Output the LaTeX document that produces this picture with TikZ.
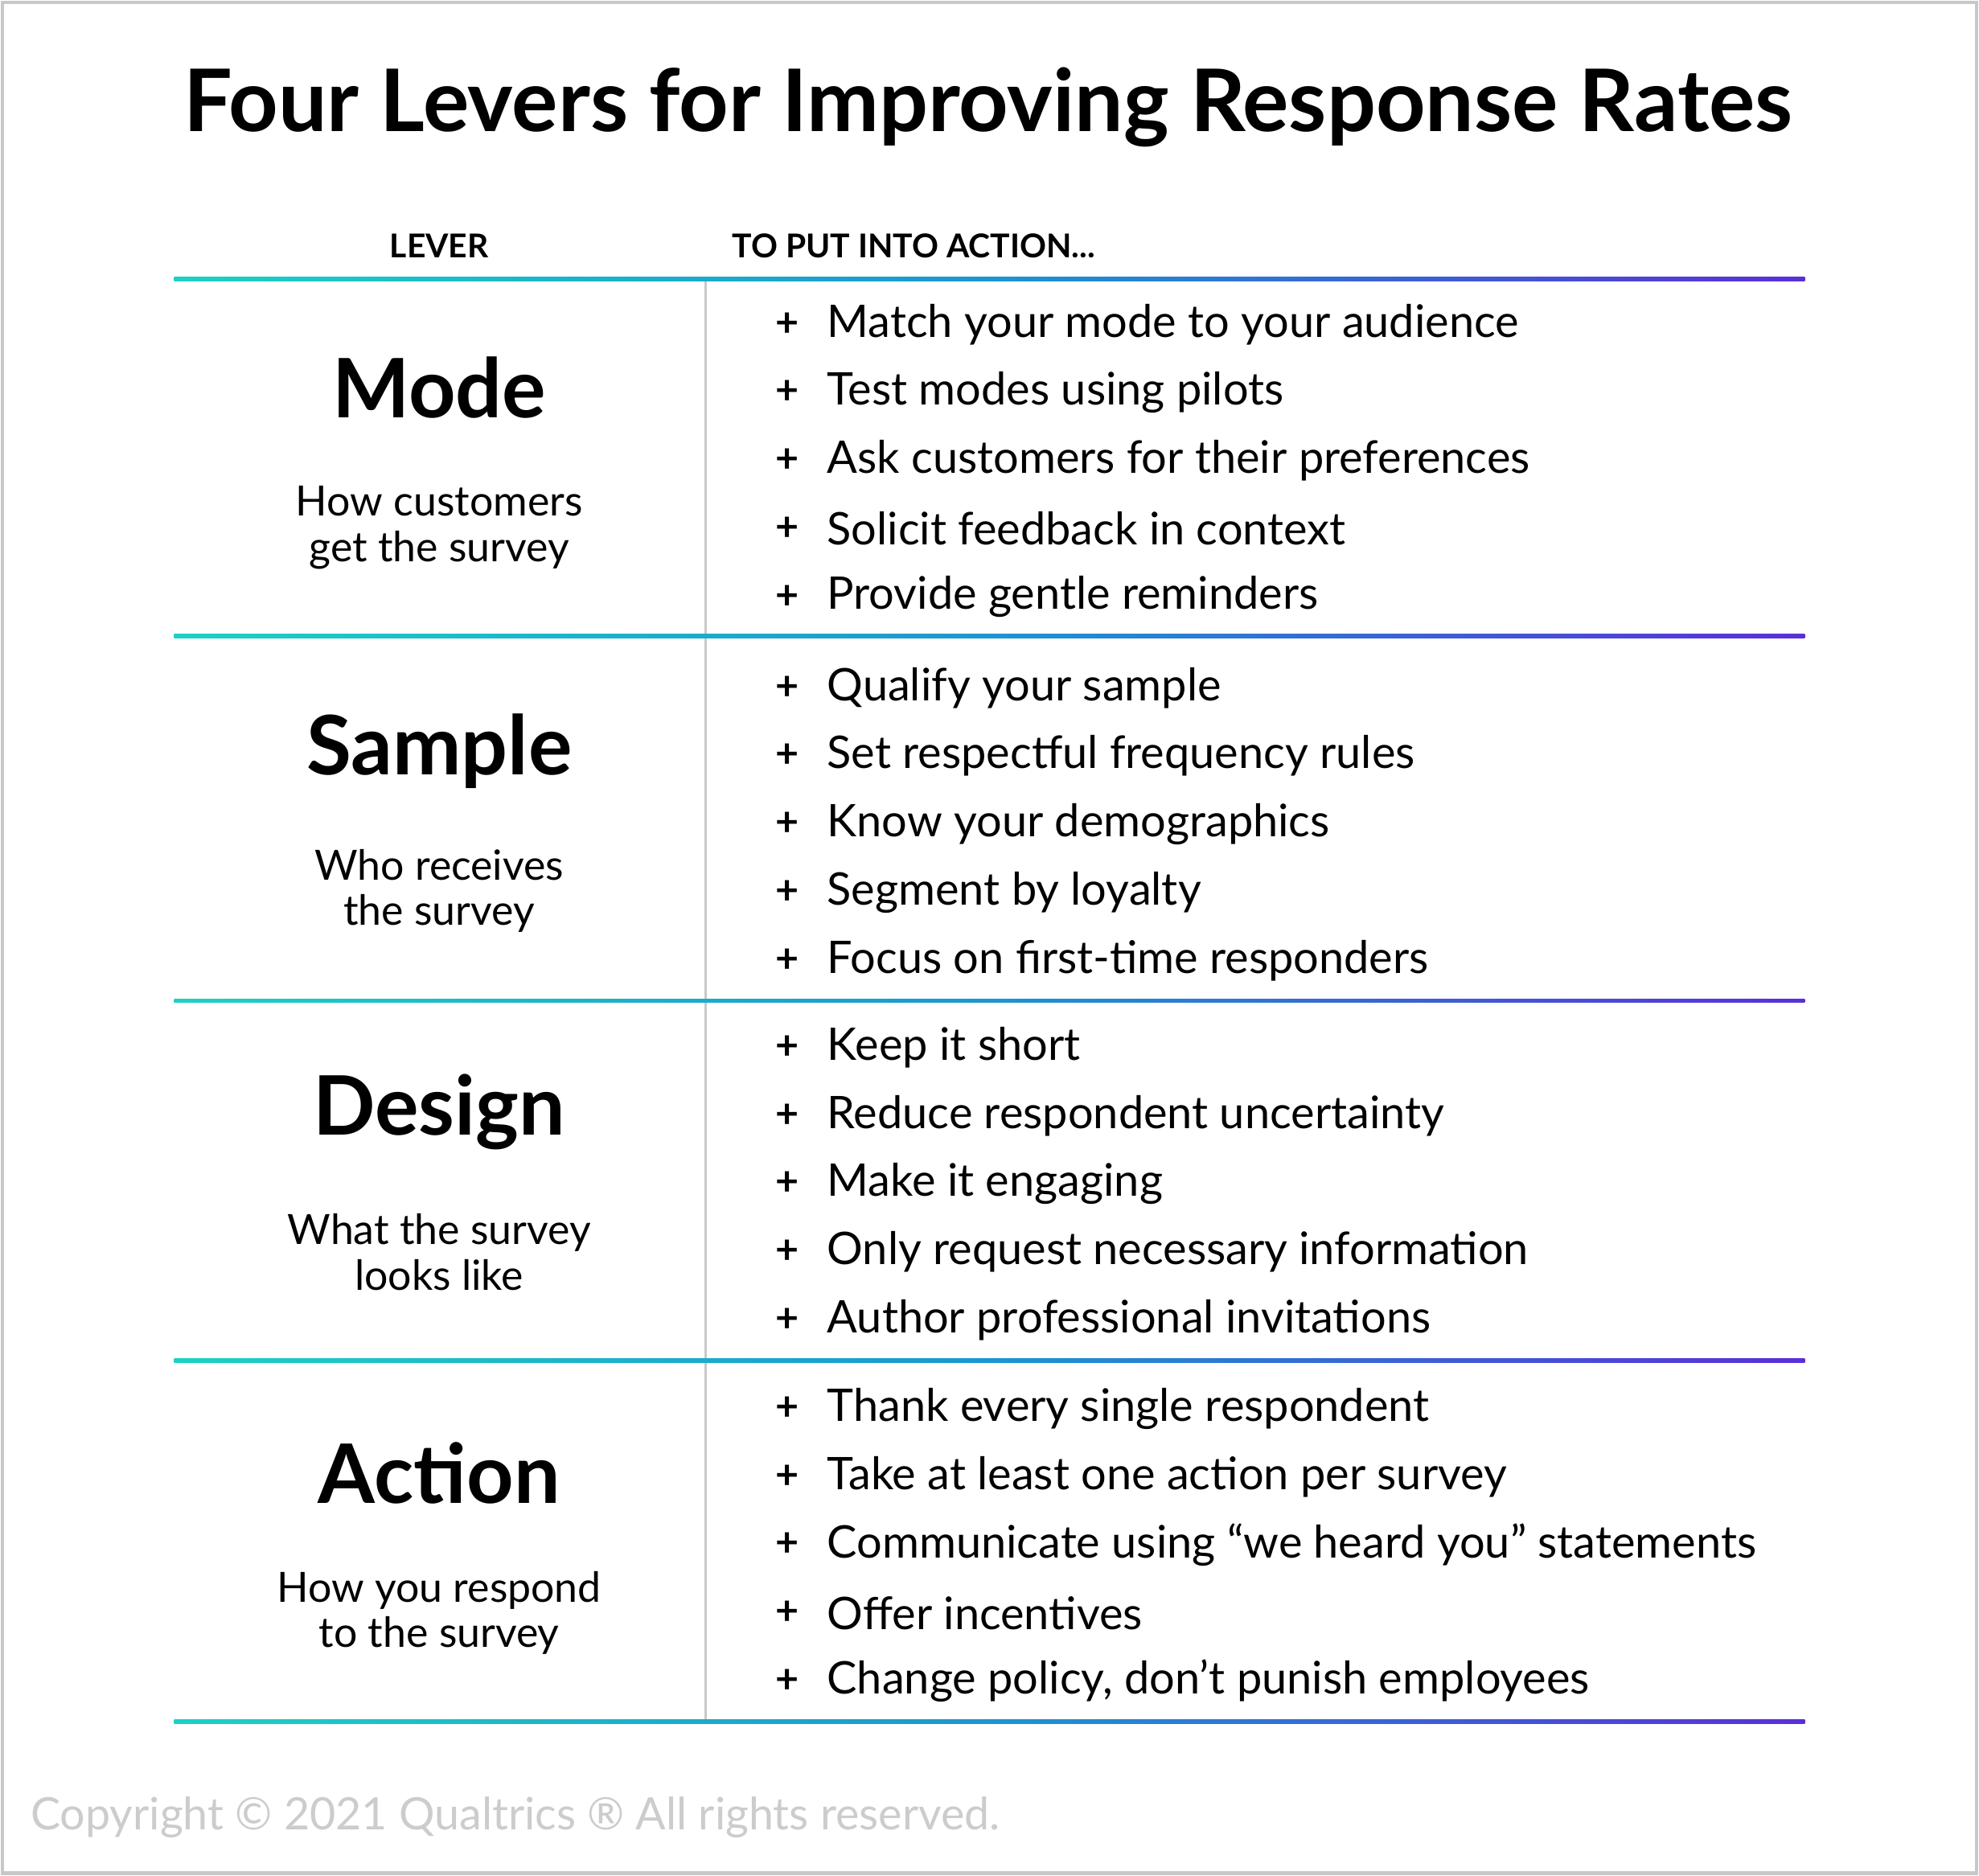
\documentclass[tikz,border=0pt]{standalone}
\usepackage{fontspec}
\setmainfont{Lato}
\definecolor{tealc}{HTML}{1CD1C4}
\definecolor{bluec}{HTML}{1A6FD8}
\definecolor{purpc}{HTML}{5A2FD9}
\definecolor{frame}{HTML}{C8C8C8}
\tikzset{
 lever/.style={font=\fontsize{32.5}{36}\selectfont\bfseries, anchor=center},
 sub/.style={font=\fontsize{16.5}{19}\selectfont, align=center, anchor=center},
 item/.style={font=\fontsize{17.8}{20}\selectfont, anchor=west, inner sep=0},
 plus/.style={font=\fontsize{16}{18}\selectfont\bfseries, anchor=center, inner sep=0},
}
\begin{document}
\begin{tikzpicture}[x=0.5pt,y=-0.5pt]
\useasboundingbox (0,0) rectangle (1568,1486);
\draw[frame, line width=1.5pt] (2,2) rectangle (1566,1484);
\node[font=\fontsize{34.2}{38}\selectfont\bfseries] (title) at (783,85) {Four Levers for Improving Response Rates};
\node[font=\fontsize{13}{15}\selectfont\bfseries] (hl) at (348,195) {LEVER};
\node[font=\fontsize{13}{15}\selectfont\bfseries, anchor=west, inner sep=0] (ha) at (580,195) {TO PUT INTO ACTION...};
\draw[frame, line width=0.8pt] (559,221) coordinate (vt) -- (559,1364) coordinate (vb);
\foreach \y in {221,504,793,1078,1364}{
  \shade[left color=tealc, right color=purpc, middle color=bluec!60!tealc] (138,\y-1.5) rectangle (1430,\y+1.5);
}
\foreach \n/\y/\a/\b [count=\i] in {Mode/307/How customers/get the survey, Sample/595/Who receives/the survey, Design/881/What the survey/looks like, Action/1167/How you respond/to the survey}{
  \node[lever] (lv\i) at (348,\y) {\n};
  \node[sub] (sb\i) at (348,\y+111) {\a\\[-1pt]\b};
}
\foreach \t/\y [count=\k] in {
 Match your mode to your audience/257, Test modes using pilots/311, Ask customers for their preferences/365, Solicit feedback in context/419, Provide gentle reminders/473,
 Qualify your sample/545, Set respectful frequency rules/599, Know your demographics/653, Segment by loyalty/707, Focus on first-time responders/761,
 Keep it short/830, Reduce respondent uncertainty/884, Make it engaging/938, Only request necessary information/992, Author professional invitations/1046,
 Thank every single respondent/1116, Take at least one action per survey/1170, {Communicate using “we heard you” statements}/1224, Offer incentives/1278, {Change policy, don’t punish employees}/1332}{
  \node[plus] (p\k) at (624,\y) {+};
  \node[item] (t\k) at (655,\y) {\t};
}
\node[font=\fontsize{17.7}{20}\selectfont, text=gray!40, anchor=west, inner sep=0] (copy) at (24,1440) {Copyright © 2021 Qualtrics ® All rights reserved.};
\end{tikzpicture}
\end{document}
